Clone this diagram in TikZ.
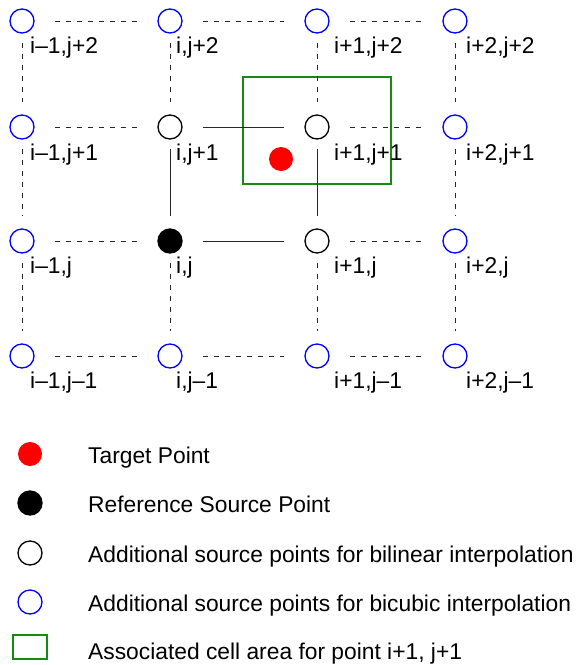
\documentclass[tikz,border=0pt]{standalone}
\usepackage{fontspec}
\setmainfont{Liberation Sans}
\usepackage{tikz}
\usetikzlibrary{positioning}

\definecolor{cellgreen}{RGB}{20,140,20}

\tikzset{
  pt/.style={circle,draw,inner sep=0pt,minimum size=24pt,line width=1.3pt},
  bluept/.style={pt,draw=blue},
  openpt/.style={pt,draw=black},
  refpt/.style={pt,fill=black},
  tgtpt/.style={circle,fill=red,inner sep=0pt,minimum size=24pt},
  cellbox/.style={draw=cellgreen,line width=1.3pt,inner sep=0pt},
  lbl/.style={anchor=base west,inner sep=0pt},
  lnk/.style={line width=0.8pt,black!85},
  dsh/.style={lnk,dash pattern=on 5pt off 6pt},
  hz/.style={shorten <=20pt,shorten >=20pt},
  vt/.style={shorten <=9pt,shorten >=12pt}
}

\begin{document}
\begin{tikzpicture}[x=1pt,y=-1pt,font=\fontsize{22.8}{27}\selectfont]
\useasboundingbox (0,0) rectangle (578,665);

% cell area and target
\node[cellbox,minimum width=148pt,minimum height=107pt] (cell) at (317,130.5) {};
\node[tgtpt] (tgt) at (281,159) {};

% row j+2
\node[bluept] (A1) at (22,21) {};
\node[bluept] (B1) at (170,21) {};
\node[bluept] (C1) at (317,21) {};
\node[bluept] (D1) at (455,21) {};
% row j+1
\node[bluept] (A2) at (22,127) {};
\node[openpt] (B2) at (170,127) {};
\node[openpt] (C2) at (317,127) {};
\node[bluept] (D2) at (455,127) {};
% row j
\node[bluept] (A3) at (22,241) {};
\node[refpt] (B3) at (170,241) {};
\node[openpt] (C3) at (317,241) {};
\node[bluept] (D3) at (455,241) {};
% row j-1
\node[bluept] (A4) at (22,356) {};
\node[bluept] (B4) at (170,356) {};
\node[bluept] (C4) at (317,356) {};
\node[bluept] (D4) at (455,356) {};

% labels
\node[lbl] at (30,53) {i–1,j+2};
\node[lbl] at (176,53) {i,j+2};
\node[lbl] at (334,53) {i+1,j+2};
\node[lbl] at (466,53) {i+2,j+2};
\node[lbl] at (30,160) {i–1,j+1};
\node[lbl] at (176,160) {i,j+1};
\node[lbl] at (334,160) {i+1,j+1};
\node[lbl] at (466,160) {i+2,j+1};
\node[lbl] at (30,273) {i–1,j};
\node[lbl] at (176,273) {i,j};
\node[lbl] at (334,273) {i+1,j};
\node[lbl] at (466,273) {i+2,j};
\node[lbl] at (30,388) {i–1,j–1};
\node[lbl] at (176,388) {i,j–1};
\node[lbl] at (334,388) {i+1,j–1};
\node[lbl] at (466,388) {i+2,j–1};

% horizontal links
\draw[dsh,hz] (A1) -- (B1);
\draw[dsh,hz] (B1) -- (C1);
\draw[dsh,hz] (C1) -- (D1);
\draw[dsh,hz] (A2) -- (B2);
\draw[lnk,hz] (B2) -- (C2);
\draw[dsh,hz] (C2) -- (D2);
\draw[dsh,hz] (A3) -- (B3);
\draw[lnk,hz] (B3) -- (C3);
\draw[dsh,hz] (C3) -- (D3);
\draw[dsh,hz] (A4) -- (B4);
\draw[dsh,hz] (B4) -- (C4);
\draw[dsh,hz] (C4) -- (D4);

% vertical links
\draw[dsh,vt] (A1) -- (A2);
\draw[dsh,vt] (A2) -- (A3);
\draw[dsh,vt] (A3) -- (A4);
\draw[dsh,vt] (B1) -- (B2);
\draw[lnk,vt] (B2) -- (B3);
\draw[dsh,vt] (B3) -- (B4);
\draw[dsh,vt] (C1) -- (C2);
\draw[lnk,vt] (C2) -- (C3);
\draw[dsh,vt] (C3) -- (C4);
\draw[dsh,vt] (D1) -- (D2);
\draw[dsh,vt] (D2) -- (D3);
\draw[dsh,vt] (D3) -- (D4);

% legend
\node[tgtpt] (lgTgt) at (30,454) {};
\node[lbl] at (88,463) {Target Point};
\node[refpt] (lgRef) at (30,503) {};
\node[lbl] at (88,512) {Reference Source Point};
\node[openpt] (lgLin) at (30,553) {};
\node[lbl] at (88,562) {Additional source points for bilinear interpolation};
\node[bluept] (lgCub) at (30,602) {};
\node[lbl] at (88,611) {Additional source points for bicubic interpolation};
\node[cellbox,minimum width=34pt,minimum height=24pt] (lgCell) at (30,647) {};
\node[lbl] at (88,659) {Associated cell area for point i+1, j+1};
\end{tikzpicture}
\end{document}
